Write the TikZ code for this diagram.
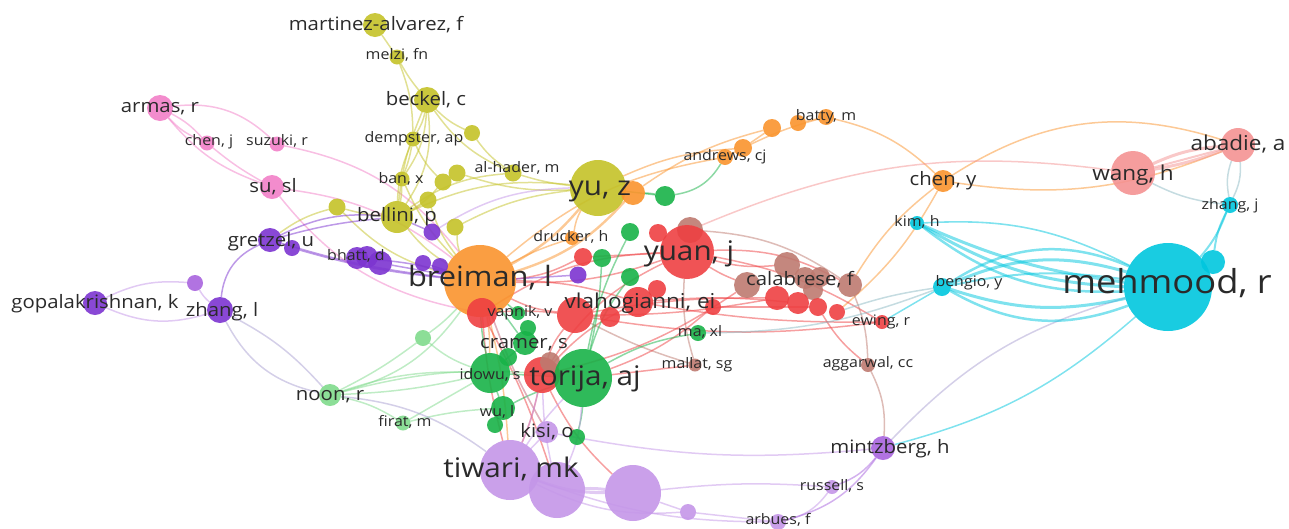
\documentclass[tikz,border=0pt]{standalone}
\usepackage{fontspec}
\setmainfont{Open Sans}[FakeStretch=1.1]
\definecolor{txt}{RGB}{42,42,42}
\definecolor{yel}{RGB}{196,194,40}
\definecolor{org}{RGB}{250,148,45}
\definecolor{red}{RGB}{238,64,66}
\definecolor{brn}{RGB}{190,122,112}
\definecolor{sal}{RGB}{244,146,146}
\definecolor{cyn}{RGB}{0,198,222}
\definecolor{grn}{RGB}{24,178,72}
\definecolor{lgr}{RGB}{128,218,140}
\definecolor{pur}{RGB}{124,52,208}
\definecolor{mpu}{RGB}{168,100,222}
\definecolor{lpu}{RGB}{196,150,232}
\definecolor{pnk}{RGB}{242,128,200}
\definecolor{gcy}{RGB}{140,185,195}
\definecolor{gpu}{RGB}{170,160,210}
\pgfdeclarelayer{edges}
\pgfsetlayers{edges,main}
\begin{document}
\begin{tikzpicture}[x=1pt,y=-1pt,
  dot/.style={circle, inner sep=0pt, outer sep=0pt, draw=none, fill=#1, fill opacity=0.9},
  sz/.style={minimum size=#1pt},
  lb/.style={inner sep=0pt, text=txt, anchor=base, yshift=-3.9pt, font=\fontsize{14.5}{15}\selectfont},
  lbM/.style={lb, yshift=-1.1pt, font=\fontsize{18.5}{19}\selectfont},
  lbB/.style={lb, yshift=-1.6pt, font=\fontsize{20.5}{21}\selectfont},
  lbL/.style={lb, yshift=-3.4pt, font=\fontsize{27}{27}\selectfont},
  lbX/.style={lb, yshift=-5pt, font=\fontsize{33}{33}\selectfont},
  ln/.style={draw=#1, draw opacity=0.5, line width=1.5pt},
]
\useasboundingbox (0,0) rectangle (1289,528);

% ---- author circles, one colour per cluster ----
\foreach \n/\x/\y/\s/\c in {
  martinez/375/25/24/yel, melzi/397/57/15/yel, beckel/427/100/26/yel,
  dempster/413/139/15/yel, y472/472/133/16/yel, ban/402/179/15/yel,
  y457/457/173/17/yel, y443/443/182/17/yel, y428/428/200/17/yel,
  y337/337/207/17/yel, y455/455/227/17/yel, alhader/513/173/17/yel,
  bellini/397/217/32/yel, yuz/598/188/56/yel,
  breiman/480/281/72/org, o633/633/193/24/org, drucker/572/238/14/org,
  andrews/725/157/16/org, o743/743/148/18/org, o772/772/128/18/org,
  o798/798/123/16/org, batty/826/117/16/org, cheny/943/181/22/org,
  b690/690/230/26/brn, b747/747/285/26/brn, b787/787/265/26/brn,
  b805/805/278/22/brn, b820/820/277/20/brn, b813/813/290/20/brn,
  b850/850/285/24/brn, mallat/695/365/13/brn, aggarwal/868/365/14/brn,
  yuan/687/252/54/red, r583/583/257/18/red, r658/658/233/18/red,
  r482/482/313/30/red, vlah/575/315/36/red, r610/610/317/20/red,
  r638/638/302/30/red, r657/657/289/18/red, r713/713/307/16/red,
  r777/777/298/24/red, r798/798/303/22/red, r818/818/307/18/red,
  r837/837/312/16/red, ewing/882/322/14/red, tred/542/375/36/red,
  tred2/550/362/20/brn,
  wang/1133/173/44/sal, abadie/1238/145/34/sal,
  mehmood/1168/287/88/cyn, c1213/1213/262/24/cyn, zhangj/1230/205/16/cyn,
  kim/917/223/14/cyn, bengio/942/287/18/cyn,
  torija/583/378/58/grn, idowu/490/373/40/grn, cramer/525/343/24/grn,
  g528/528/328/16/grn, g508/508/357/18/grn, vapnik/518/313/14/grn,
  wul/503/408/24/grn, wul2/495/425/16/grn, kisig/577/437/16/grn,
  maxl/698/333/16/grn, g630a/630/232/18/grn, g602/602/258/18/grn,
  g630b/630/277/18/grn, g665/665/196/20/grn,
  noon/330/395/22/lgr, firat/403/423/15/lgr, lg423/423/338/16/lgr,
  gretzel/270/240/24/pur, p292/292/248/16/pur, bhatt1/357/258/22/pur,
  bhatt2/367/257/22/pur, bhatt3/380/263/24/pur, gopal/95/303/24/pur,
  zhangl/220/310/26/pur, p432/432/232/17/pur, p423/423/263/16/pur,
  p440/440/266/16/pur, p578/578/275/17/pur,
  p195/195/283/16/mpu, mintzberg/883/448/24/mpu,
  tiwari/510/470/60/lpu, p557/557/490/56/lpu, p633/633/493/56/lpu,
  p688/688/512/16/lpu, kisi/547/432/22/lpu, russell/832/487/14/lpu,
  arbues/778/522/16/lpu,
  armas/160/108/26/pnk, chenj/207/143/15/pnk, suzuki/277/144/15/pnk,
  susl/272/187/24/pnk}
  \node[dot=\c, sz=\s] (\n) at (\x,\y) {};

% ---- links ----
\begin{pgfonlayer}{edges}
\foreach \a/\b/\c/\k in {
  armas/chenj/pnk/10, armas/chenj/pnk/-12, armas/suzuki/pnk/25,
  chenj/susl/pnk/-5, suzuki/breiman/pnk/20, susl/breiman/pnk/15,
  susl/r482/pnk/-20, armas/susl/pnk/-15,
  martinez/melzi/yel/0, melzi/beckel/yel/-5, melzi/dempster/yel/10,
  beckel/dempster/yel/10, beckel/ban/yel/15, beckel/bellini/yel/20,
  beckel/bellini/yel/-8, beckel/y472/yel/-10, beckel/alhader/yel/-15,
  y472/alhader/yel/-10, alhader/yuz/yel/-5, dempster/bellini/yel/-10,
  dempster/ban/yel/5, dempster/y443/yel/-10, ban/bellini/yel/5,
  ban/breiman/yel/-10, y337/bellini/yel/-5, y337/breiman/yel/-15,
  y443/bellini/yel/10, y457/yuz/yel/-10, y428/bellini/yel/5,
  y428/breiman/yel/-10, y455/breiman/yel/-10, bellini/yuz/yel/15,
  bellini/breiman/yel/-10, y455/yuz/yel/10, bellini/alhader/yel/15,
  p432/yuz/lpu/15,
  breiman/drucker/org/5, breiman/andrews/org/15, yuz/o743/org/10,
  o633/o772/org/10, andrews/o743/org/0, o743/o772/org/0,
  o743/batty/org/5, o798/batty/org/0, batty/cheny/org/15,
  cheny/abadie/org/25, cheny/abadie/org/-15, cheny/b850/org/-10,
  cheny/r837/org/10, drucker/yuz/org/10, breiman/tiwari/org/5,
  breiman/idowu/org/5, breiman/kisi/org/-5,
  breiman/yuan/red/-10, breiman/vlah/red/-10, breiman/r583/red/-10,
  r583/yuan/red/0, r658/yuan/red/0, yuan/b787/red/-10, yuan/b747/red/-5,
  yuan/b850/red/15, b690/b850/brn/15, b690/wang/sal/15, yuan/ewing/red/10,
  vlah/r777/red/5, vlah/r777/red/-5, r638/r798/red/5, r638/ewing/red/-5,
  r713/r818/red/0, r482/vlah/red/5, r482/yuan/red/15, tred/vlah/red/10,
  tred/yuan/red/15, tred/r638/red/10, r818/aggarwal/red/-10,
  b850/aggarwal/brn/10, aggarwal/mintzberg/brn/15, mallat/vlah/brn/5,
  mallat/yuan/brn/10, mallat/torija/red/0, torija/r713/red/-10,
  tred/b747/red/-10, r610/vlah/red/0, r657/r638/red/0,
  tred/tiwari/red/5, breiman/tiwari/red/-5, r482/p557/red/5,
  tred/p633/red/-10, vlah/ewing/red/-8, breiman/r638/red/8,
  wang/zhangj/gcy/-10, abadie/zhangj/gcy/15, abadie/zhangj/gcy/-15,
  ewing/bengio/cyn/0, r837/bengio/gcy/5, maxl/bengio/gcy/-10,
  mehmood/mintzberg/cyn/13, mintzberg/mehmood/gpu/15,
  torija/maxl/grn/10, yuz/g665/grn/0, o633/g665/grn/5,
  g665/andrews/grn/-25, torija/kisig/grn/5, torija/g630b/grn/10,
  torija/idowu/grn/0, idowu/cramer/grn/0, idowu/breiman/grn/5,
  cramer/breiman/grn/0, vapnik/breiman/grn/0, wul/idowu/grn/0,
  wul/torija/grn/5, g602/torija/grn/5, g630a/torija/grn/-8,
  noon/idowu/lgr/10, noon/idowu/lgr/-5, noon/lg423/lgr/-5,
  noon/breiman/lgr/-20, noon/firat/lgr/10, noon/torija/lgr/10,
  firat/idowu/lgr/0, firat/wul/lgr/5, lg423/breiman/lgr/-5,
  lg423/idowu/lgr/-10, noon/tiwari/gpu/15,
  gopal/p195/lpu/15, p195/zhangl/lpu/-10, gopal/zhangl/lpu/-20,
  zhangl/gretzel/pur/30, zhangl/noon/gpu/-25, zhangl/noon/gpu/10,
  gretzel/bellini/pur/15, gretzel/bellini/pur/5, gretzel/breiman/pur/-5,
  p292/breiman/pur/-5, bhatt3/breiman/pur/0, bhatt1/breiman/pur/5,
  p423/breiman/pur/0, p432/bellini/pur/0, p578/breiman/pur/0,
  gretzel/y337/yel/10,
  p633/p688/lpu/0, tiwari/p688/lpu/-15, tiwari/kisi/lpu/0,
  kisi/breiman/lpu/5, tiwari/torija/lpu/5, tiwari/tred/lpu/-5,
  p557/tred/lpu/5, p557/torija/lpu/-10, kisi/mintzberg/lpu/-8,
  russell/mintzberg/mpu/-15, p633/russell/lpu/5, p688/arbues/lpu/0,
  tiwari/arbues/lpu/-10, arbues/russell/lpu/-20, arbues/mintzberg/mpu/-20}
  \draw[ln=\c] (\a) to[bend left=\k] (\b);
% heavier links
\foreach \a/\b/\c/\k/\w in {
  breiman/yuz/org/-10/2.4, breiman/o633/org/-15/2.4,
  wang/abadie/sal/10/3, wang/abadie/sal/-5/3, wang/abadie/sal/0/2,
  kim/mehmood/cyn/-8/3, kim/mehmood/cyn/-14/3, kim/mehmood/cyn/-20/2.5,
  kim/mehmood/cyn/15/1.6,
  bengio/mehmood/cyn/20/3, bengio/mehmood/cyn/28/2.5,
  bengio/mehmood/cyn/-15/3, bengio/mehmood/cyn/-25/2.5,
  bengio/mehmood/cyn/10/2,
  zhangj/mehmood/cyn/10/2, zhangj/c1213/cyn/-10/2, c1213/mehmood/cyn/0/2,
  tiwari/p557/lpu/0/3, tiwari/p633/lpu/-10/3, p557/p633/lpu/5/3}
  \draw[ln=\c, line width=\w pt] (\a) to[bend left=\k] (\b);
\end{pgfonlayer}

% ---- author names ----
\node[lbM] (l-martinez) at (376,25) {martinez-alvarez, f};
\node[lb] (l-melzi) at (397,56) {melzi, fn};
\node[lbM] (l-beckel) at (426,100) {beckel, c};
\node[lb] (l-dempster) at (414,139) {dempster, ap};
\node[lb] (l-ban) at (401,180) {ban, x};
\node[lb] (l-alhader) at (517,169) {al-hader, m};
\node[lbM] (l-bellini) at (397,216) {bellini, p};
\node[lbL] (l-yuz) at (600,188) {yu, z};
\node[lbM] (l-armas) at (160,107) {armas, r};
\node[lb] (l-chenj) at (209,142) {chen, j};
\node[lb] (l-suzuki) at (277,142) {suzuki, r};
\node[lbM] (l-susl) at (273,187) {su, sl};
\node[lbM] (l-gretzel) at (271,241) {gretzel, u};
\node[lb] (l-bhatt) at (356,257) {bhatt, d};
\node[lbM] (l-gopal) at (95,303) {gopalakrishnan, k};
\node[lbM] (l-zhangl) at (222,311) {zhang, l};
\node[lbM] (l-noon) at (330,395) {noon, r};
\node[lb] (l-firat) at (405,423) {firat, m};
\node[lbL, font=\fontsize{28}{28}\selectfont] (l-breiman) at (480,279) {breiman, l};
\node[lb] (l-drucker) at (571,238) {drucker, h};
\node[lb] (l-vapnik) at (520,313) {vapnik, v};
\node[lbM] (l-cramer) at (524,343) {cramer, s};
\node[lb] (l-idowu) at (490,376) {idowu, s};
\node[lbL] (l-torija) at (585,378) {torija, aj};
\node[lb] (l-wul) at (497,413) {wu, l};
\node[lbM] (l-kisi) at (547,432) {kisi, o};
\node[lbL] (l-tiwari) at (511,470) {tiwari, mk};
\node[lbL] (l-yuan) at (689,253) {yuan, j};
\node[lbB] (l-vlah) at (640,303) {vlahogianni, ei};
\node[lbM] (l-calabrese) at (800,280) {calabrese, f};
\node[lb] (l-maxl) at (700,333) {ma, xl};
\node[lb] (l-mallat) at (697,365) {mallat, sg};
\node[lb] (l-ewing) at (881,322) {ewing, r};
\node[lb] (l-aggarwal) at (868,364) {aggarwal, cc};
\node[lbM] (l-mintzberg) at (890,448) {mintzberg, h};
\node[lb] (l-russell) at (832,487) {russell, s};
\node[lb] (l-arbues) at (778,521) {arbues, f};
\node[lb] (l-andrews) at (725,157) {andrews, cj};
\node[lb] (l-batty) at (826,117) {batty, m};
\node[lbM] (l-cheny) at (943,180) {chen, y};
\node[lb] (l-kim) at (917,223) {kim, h};
\node[lb] (l-bengio) at (969,283) {bengio, y};
\node[lbX] (l-mehmood) at (1167,285) {mehmood, r};
\node[lbB] (l-wang) at (1133,175) {wang, h};
\node[lbB] (l-abadie) at (1238,145) {abadie, a};
\node[lb] (l-zhangj) at (1230,206) {zhang, j};
\end{tikzpicture}
\end{document}
